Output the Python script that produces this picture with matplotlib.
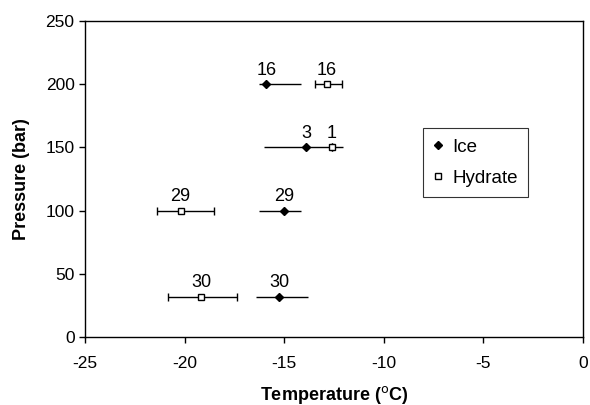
import numpy as np
import matplotlib
matplotlib.use('Agg')
import matplotlib.pyplot as plt
from matplotlib.lines import Line2D

plt.rcParams['font.family'] = ['Liberation Sans', 'DejaVu Sans']
plt.rcParams['axes.unicode_minus'] = False

# data
ice_t = [-15.9, -13.9, -15.0, -15.25]
ice_p = [200, 150, 100, 32]
ice_lo = [-16.24, -16.0, -16.24, -16.41]
ice_hi = [-14.15, -12.05, -14.15, -13.83]
ice_n = ['16', '3', '29', '30']

hyd_t = [-12.85, -12.6, -20.2, -19.17]
hyd_p = [200, 150, 100, 32]
hyd_lo = [-13.44, -12.6, -21.4, -20.81]
hyd_hi = [-12.1, -12.6, -18.52, -17.38]
hyd_n = ['16', '1', '29', '30']

fig = plt.figure(figsize=(5.9, 4.05), dpi=100)
ax = fig.add_axes([85/590, (405-337)/405, 498/590, 316/405])

ice_err = [np.array(ice_t) - np.array(ice_lo), np.array(ice_hi) - np.array(ice_t)]
hyd_err = [np.array(hyd_t) - np.array(hyd_lo), np.array(hyd_hi) - np.array(hyd_t)]

ax.errorbar(ice_t, ice_p, xerr=ice_err, fmt='D', color='black', ms=4.5,
            elinewidth=1, capsize=0)
ax.errorbar(hyd_t, hyd_p, xerr=hyd_err, fmt='s', color='black', mfc='white',
            ms=5, mew=1, elinewidth=1, capsize=3, capthick=1)

for t, p, n in zip(ice_t, ice_p, ice_n):
    ax.annotate(n, (t, p), xytext=(0, 4), textcoords='offset points',
                ha='center', va='bottom', fontsize=13)
for t, p, n in zip(hyd_t, hyd_p, hyd_n):
    ax.annotate(n, (t, p), xytext=(0, 4), textcoords='offset points',
                ha='center', va='bottom', fontsize=13)

ax.set_xlim(-25, 0)
ax.set_ylim(0, 250)
ax.set_xticks(np.arange(-25, 1, 5))
ax.set_yticks(np.arange(0, 251, 50))
ax.tick_params(labelsize=12.5, direction='out', length=4, width=1)
ax.tick_params(axis='x', pad=10)
for s in ax.spines.values():
    s.set_linewidth(1)
ax.set_xlabel(r'Temperature ($^{\rm o}$C)', fontsize=13, fontweight='bold', labelpad=9)
ax.set_ylabel('Pressure (bar)', fontsize=13, fontweight='bold', labelpad=11)

handles = [Line2D([], [], ls='none', marker='D', color='black', ms=4),
           Line2D([], [], ls='none', marker='s', color='black', mfc='white', ms=5, mew=1)]
leg = ax.legend(handles, ['Ice', 'Hydrate'], loc='upper left',
                bbox_to_anchor=(0.679, 0.661), fontsize=13.5,
                frameon=True, fancybox=False, edgecolor='black',
                handlelength=0.5, handletextpad=0.5, borderpad=0.55,
                labelspacing=0.75, borderaxespad=0)
leg.get_frame().set_linewidth(0.8)

fig.savefig('out.png', dpi=100)
